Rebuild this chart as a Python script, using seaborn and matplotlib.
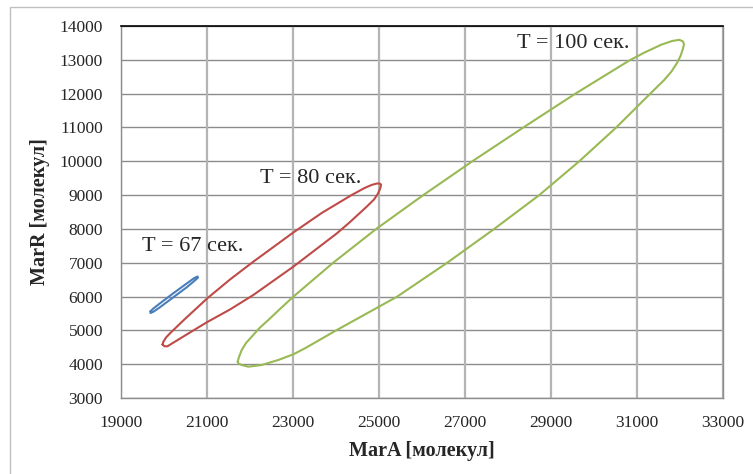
import numpy as np
import pandas as pd
import matplotlib
matplotlib.use("Agg")
import matplotlib.pyplot as plt
from matplotlib.patches import Rectangle
import seaborn as sns

# loops, in drawing order (closed)
t67_x = [19686, 19744, 19907, 20216, 20528, 20698, 20779, 20791, 20744,
         20528, 20216, 19907, 19756, 19686, 19686]
t67_y = [5564, 5638, 5800, 6096, 6386, 6542, 6593, 6563, 6504,
         6273, 5978, 5685, 5552, 5513, 5564]

t80_x = [19965, 19988, 20047, 20140, 20449, 21007, 21535, 22077, 23007, 23674, 24365,
         24674, 24837, 24954, 25012, 25047, 25040, 25019, 24972, 24884, 24714, 24326,
         24016, 23007, 22077, 21535, 21007, 20528, 20279, 20186, 20081, 20012, 19965]
t80_y = [4582, 4671, 4789, 4913, 5292, 5948, 6504, 7030, 7894, 8476, 9003,
         9216, 9304, 9343, 9343, 9313, 9254, 9171, 9032, 8870, 8657, 8204,
         7864, 6883, 6046, 5617, 5247, 4878, 4685, 4612, 4529, 4529, 4582]

t100_x = [21714, 21740, 21807, 21907, 22040, 22221, 22426, 22710, 23007, 23930, 24930,
          26023, 27163, 28349, 29558, 30837, 31186, 31558, 31814, 31988, 32070, 32093,
          32070, 32012, 31930, 31802, 31630, 31302, 30512, 29651, 28721, 27674, 26581,
          25420, 24000, 23279, 23007, 22658, 22272, 21960, 21807, 21733, 21714]
t100_y = [4073, 4198, 4419, 4626, 4813, 5070, 5306, 5647, 5996, 6995, 7994,
          8994, 9993, 10993, 11992, 12992, 13222, 13444, 13556, 13592, 13542, 13453,
          13335, 13113, 12906, 12655, 12400, 11992, 10993, 9993, 8994, 7994, 6995,
          5996, 4996, 4470, 4292, 4124, 3976, 3926, 3976, 4020, 4073]

loop_names = ["T = 67 сек.", "T = 80 сек.", "T = 100 сек."]
loop_colors = ["#4a7ebb", "#be4b48", "#98b954"]
label_x = [19481, 22233, 28217]
label_y = [7474, 9476, 13488]

x_ticks = list(range(19000, 33001, 2000))
y_ticks = list(range(3000, 14001, 1000))

sns.set_style("white")
plt.rcParams["font.family"] = ["Liberation Serif", "DejaVu Serif"]

fig = plt.figure(figsize=(7.53, 4.74), dpi=100)
ax = fig.add_axes([121 / 753, 1 - 398 / 474, 602 / 753, 372 / 474])

# light outer frame of the chart area
fig.patches.append(Rectangle((10 / 753, -0.05), 1.2, 1 - 7 / 474 + 0.05,
                             transform=fig.transFigure, fill=False,
                             edgecolor="#c0c0c0", lw=1.0))

for lx, ly, name, col in zip([t67_x, t80_x, t100_x], [t67_y, t80_y, t100_y],
                             loop_names, loop_colors):
    df = pd.DataFrame({"x": lx, "y": ly})
    sns.lineplot(data=df, x="x", y="y", sort=False, estimator=None,
                 color=col, lw=1.5, ax=ax)

for tx, ty, name in zip(label_x, label_y, loop_names):
    ax.text(tx, ty, name, fontsize=16, va="center", ha="left")

ax.set_xlim(19000, 33000)
ax.set_ylim(3000, 14000)
ax.set_xticks(x_ticks)
ax.set_yticks(y_ticks)
ax.set_xticklabels([str(v) for v in x_ticks])
ax.set_yticklabels([str(v) for v in y_ticks])

for v in y_ticks:
    ax.axhline(v, color="#8c8c8c", lw=1.0, zorder=0)
for v in x_ticks:
    ax.axvline(v, color="#b4b4b4", lw=1.6, zorder=0)

ax.tick_params(axis="both", direction="out", length=5, width=1,
               color="#8c8c8c", labelsize=12.5)
ax.tick_params(axis="x", pad=7)
ax.tick_params(axis="y", pad=8)

for side in ["left", "bottom", "right"]:
    ax.spines[side].set_color("#8c8c8c")
    ax.spines[side].set_linewidth(1.0)
ax.spines["top"].set_color("black")
ax.spines["top"].set_linewidth(1.2)

ax.set_xlabel("MarA [молекул]", fontsize=14.5, fontweight="bold", va="center")
ax.set_ylabel("MarR [молекул]", fontsize=14.5, fontweight="bold", va="center")
ax.xaxis.set_label_coords(0.5, -(451 - 398) / 372)
ax.yaxis.set_label_coords(-(121 - 40) / 602, 0.5)

fig.savefig("out.png", dpi=100)
